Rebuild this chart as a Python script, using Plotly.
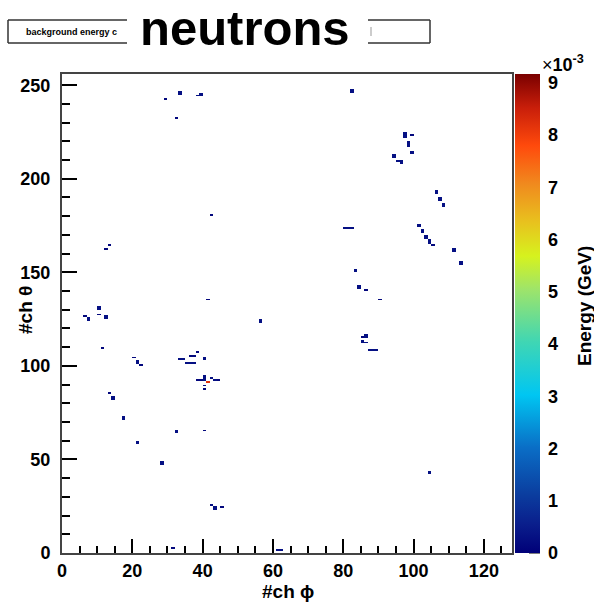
import plotly.graph_objects as go

# ---------------- data ----------------
N_PHI = 128
N_THETA = 256
Z_MAX = 9.17e-3

phi_bins = [29, 33, 33, 38, 39, 39, 32, 82, 82, 42,
            97, 97, 97, 99, 98, 98, 98, 99, 99, 94, 94, 95, 96, 96,
            80, 81, 82, 83, 83, 84, 84, 86, 90, 85, 86, 86, 85, 86, 85, 87, 88, 89,
            106, 106, 107, 107, 108, 108, 101, 101, 102, 102, 103, 103, 104, 104, 104, 105,
            111, 111, 113, 113,
            104, 104, 61, 62, 31, 42, 43, 43, 45, 28, 28, 21, 21, 32, 32, 40, 17, 17, 13, 14, 14,
            40, 40, 39, 38, 41, 42, 43, 44, 40, 40, 40,
            40, 40, 38, 36, 37, 35, 36, 37, 33, 34, 20, 21, 21, 22, 11,
            10, 10, 6, 7, 7, 10, 12, 12, 56, 56, 41, 13, 12]
theta_bins = [242, 246, 245, 244, 244, 245, 232, 246, 247, 180,
              222, 223, 224, 223, 217, 218, 219, 214, 213, 211, 212, 209, 209, 208,
              173, 173, 173, 150, 151, 141, 142, 140, 135, 115, 115, 116, 112, 112, 113, 108, 108, 108,
              192, 193, 188, 189, 185, 186, 174, 175, 171, 172, 168, 169, 165, 166, 167, 164,
              161, 162, 154, 155,
              42, 43, 1, 1, 2, 25, 24, 23, 24, 47, 48, 58, 59, 64, 65, 65, 71, 72, 85, 82, 83,
              93, 94, 92, 92, 91, 93, 92, 92, 92, 89, 87,
              103, 104, 107, 105, 105, 101, 101, 101, 103, 103, 104, 102, 101, 100, 109,
              130, 131, 126, 125, 124, 127, 125, 126, 124, 123, 135, 164, 162]
energy_gev = [1.5e-4, 3e-4, 3e-4, 3e-4, 3e-4, 3e-4, 1.5e-4, 3e-4, 3e-4, 1.5e-4,
              3e-4, 3e-4, 3e-4, 1.5e-4, 3e-4, 3e-4, 3e-4, 3e-4, 3e-4, 3e-4, 3e-4, 3e-4, 3e-4, 3e-4,
              3e-4, 3e-4, 3e-4, 3e-4, 3e-4, 3e-4, 3e-4, 1.5e-4, 1.5e-4, 1.5e-4, 3e-4, 3e-4, 3e-4, 3e-4, 3e-4,
              3e-4, 3e-4, 3e-4,
              3e-4, 3e-4, 3e-4, 3e-4, 3e-4, 3e-4, 3e-4, 3e-4, 3e-4, 3e-4, 3e-4, 3e-4, 3e-4, 3e-4, 3e-4, 1.5e-4,
              3e-4, 3e-4, 3e-4, 3e-4,
              3e-4, 3e-4, 3e-4, 3e-4, 1.5e-4, 3e-4, 3e-4, 3e-4, 1.5e-4, 3e-4, 3e-4, 3e-4, 3e-4, 3e-4, 3e-4,
              1.5e-4, 3e-4, 3e-4, 1.5e-4, 3e-4, 3e-4,
              3e-4, 3e-4, 1.5e-4, 1.5e-4, 8.2e-3, 3e-4, 3e-4, 1.5e-4, 3e-4, 1.5e-4, 1.5e-4,
              3e-4, 3e-4, 1.5e-4, 1.5e-4, 1.5e-4, 3e-4, 3e-4, 3e-4, 3e-4, 3e-4, 1.5e-4, 3e-4, 3e-4, 1.5e-4,
              1.5e-4,
              3e-4, 3e-4, 1.5e-4, 3e-4, 3e-4, 1.5e-4, 3e-4, 3e-4, 3e-4, 3e-4, 1.5e-4, 1.5e-4, 1.5e-4]

x_ticks = [0, 20, 40, 60, 80, 100, 120]
y_ticks = [0, 50, 100, 150, 200, 250]
cbar_vals = [i * 1e-3 for i in range(10)]
cbar_text = [str(i) for i in range(10)]

# ---------------- build grid ----------------
z = [[None] * N_PHI for _ in range(N_THETA)]
for p, t, e in zip(phi_bins, theta_bins, energy_gev):
    z[t][p] = e
xc = [i + 0.5 for i in range(N_PHI)]
yc = [j + 0.5 for j in range(N_THETA)]

colorscale = [
    [0.00, "#000078"], [0.06, "#0a1e8c"], [0.12, "#0b3c9e"], [0.22, "#0a6ec6"],
    [0.33, "#00c6f2"], [0.44, "#3fd6b4"], [0.55, "#9ee46a"], [0.62, "#d6f21e"],
    [0.69, "#e8c21e"], [0.77, "#f08a1e"], [0.85, "#ff4a0c"], [0.93, "#c81e0a"],
    [1.00, "#7a0000"],
]

FONT = "Liberation Sans"
W, H = 594, 604
X0, X1, Y0, Y1 = 62, 512, 74, 553
CB0, CB1 = 515, 540


def px(xp):
    return (xp - X0) / (X1 - X0)


def py(yp):
    return (Y1 - yp) / (Y1 - Y0)


fig = go.Figure(go.Heatmap(
    x=xc, y=yc, z=z, zmin=0, zmax=Z_MAX, colorscale=colorscale,
    hoverongaps=False, zsmooth=False,
    colorbar=dict(
        x=px(CB0), xanchor="left", y=0.5, yanchor="middle",
        len=1, lenmode="fraction", thickness=CB1 - CB0, thicknessmode="pixels",
        xpad=0, ypad=0, outlinewidth=0,
        tickmode="array", tickvals=cbar_vals, ticktext=cbar_text,
        ticks="outside", ticklen=5, tickcolor="rgba(0,0,0,0)", tickwidth=1,
        tickfont=dict(family=FONT, size=18, color="black", weight="bold"),
    ),
))

axis_common = dict(
    showgrid=False, zeroline=False, showline=True, linecolor="#444",
    linewidth=2, mirror=True, ticks="inside", tickcolor="black",
    tickwidth=1.5, tickfont=dict(family=FONT, size=18, color="black", weight="bold"),
)
fig.update_xaxes(range=[0, N_PHI], tickmode="array", tickvals=x_ticks, ticklen=14,
                 minor=dict(dtick=5, ticklen=7, tickcolor="black", ticks="inside", tickwidth=1.5),
                 **axis_common)
fig.update_yaxes(range=[0, N_THETA], tickmode="array", tickvals=y_ticks, ticklen=15,
                 minor=dict(dtick=10, ticklen=8, tickcolor="black", ticks="inside", tickwidth=1.5),
                 ticklabelstandoff=6, **axis_common)

shapes = []
line = dict(color="#333", width=1.5)
for (xa, ya, xb, yb) in [(8, 20, 127, 20), (8, 43, 127, 43), (8, 20, 8, 43),
                         (368, 20, 430, 20), (368, 43, 430, 43), (430, 20, 430, 43)]:
    shapes.append(dict(type="line", xref="paper", yref="paper",
                       x0=px(xa), y0=py(ya), x1=px(xb), y1=py(yb), line=line))
shapes.append(dict(type="line", xref="paper", yref="paper",
                   x0=px(371), y0=py(27), x1=px(371), y1=py(36),
                   line=dict(color="#999", width=1)))
# colour-bar tick marks drawn inward from its right edge
for v in cbar_vals:
    yy = v / Z_MAX
    shapes.append(dict(type="line", xref="paper", yref="paper",
                       x0=px(CB1), x1=px(CB1 - 11), y0=yy, y1=yy,
                       line=dict(color="black", width=1)))

ann_font = dict(family=FONT, size=19, color="black", weight="bold")
annotations = [
    dict(text="neutrons", x=px(245), y=py(28), font=dict(family=FONT, size=49, color="black", weight="bold")),
    dict(text="background energy c", x=px(24), y=py(31.5), xanchor="left",
         font=dict(family=FONT, size=9, color="black", weight="bold")),
    dict(text="#ch ϕ", x=px(288), y=py(591), font=ann_font),
    dict(text="#ch θ", x=px(25), y=py(310), textangle=-90, font=ann_font),
    dict(text="Energy (GeV)", x=px(584), y=py(306), textangle=-90, font=ann_font),
    dict(text="×<b>10</b><sup><b>-3</b></sup>", x=px(563), y=py(64),
         font=dict(family=FONT, size=18, color="black")),
]
for a in annotations:
    a.setdefault("xanchor", "center")
    a.setdefault("yanchor", "middle")
    a.update(xref="paper", yref="paper", showarrow=False)

fig.update_layout(
    width=W, height=H, autosize=False,
    margin=dict(l=X0, r=W - X1, t=Y0, b=H - Y1, pad=0),
    plot_bgcolor="white", paper_bgcolor="white",
    shapes=shapes, annotations=annotations, showlegend=False,
)

fig.write_html("out.html")
